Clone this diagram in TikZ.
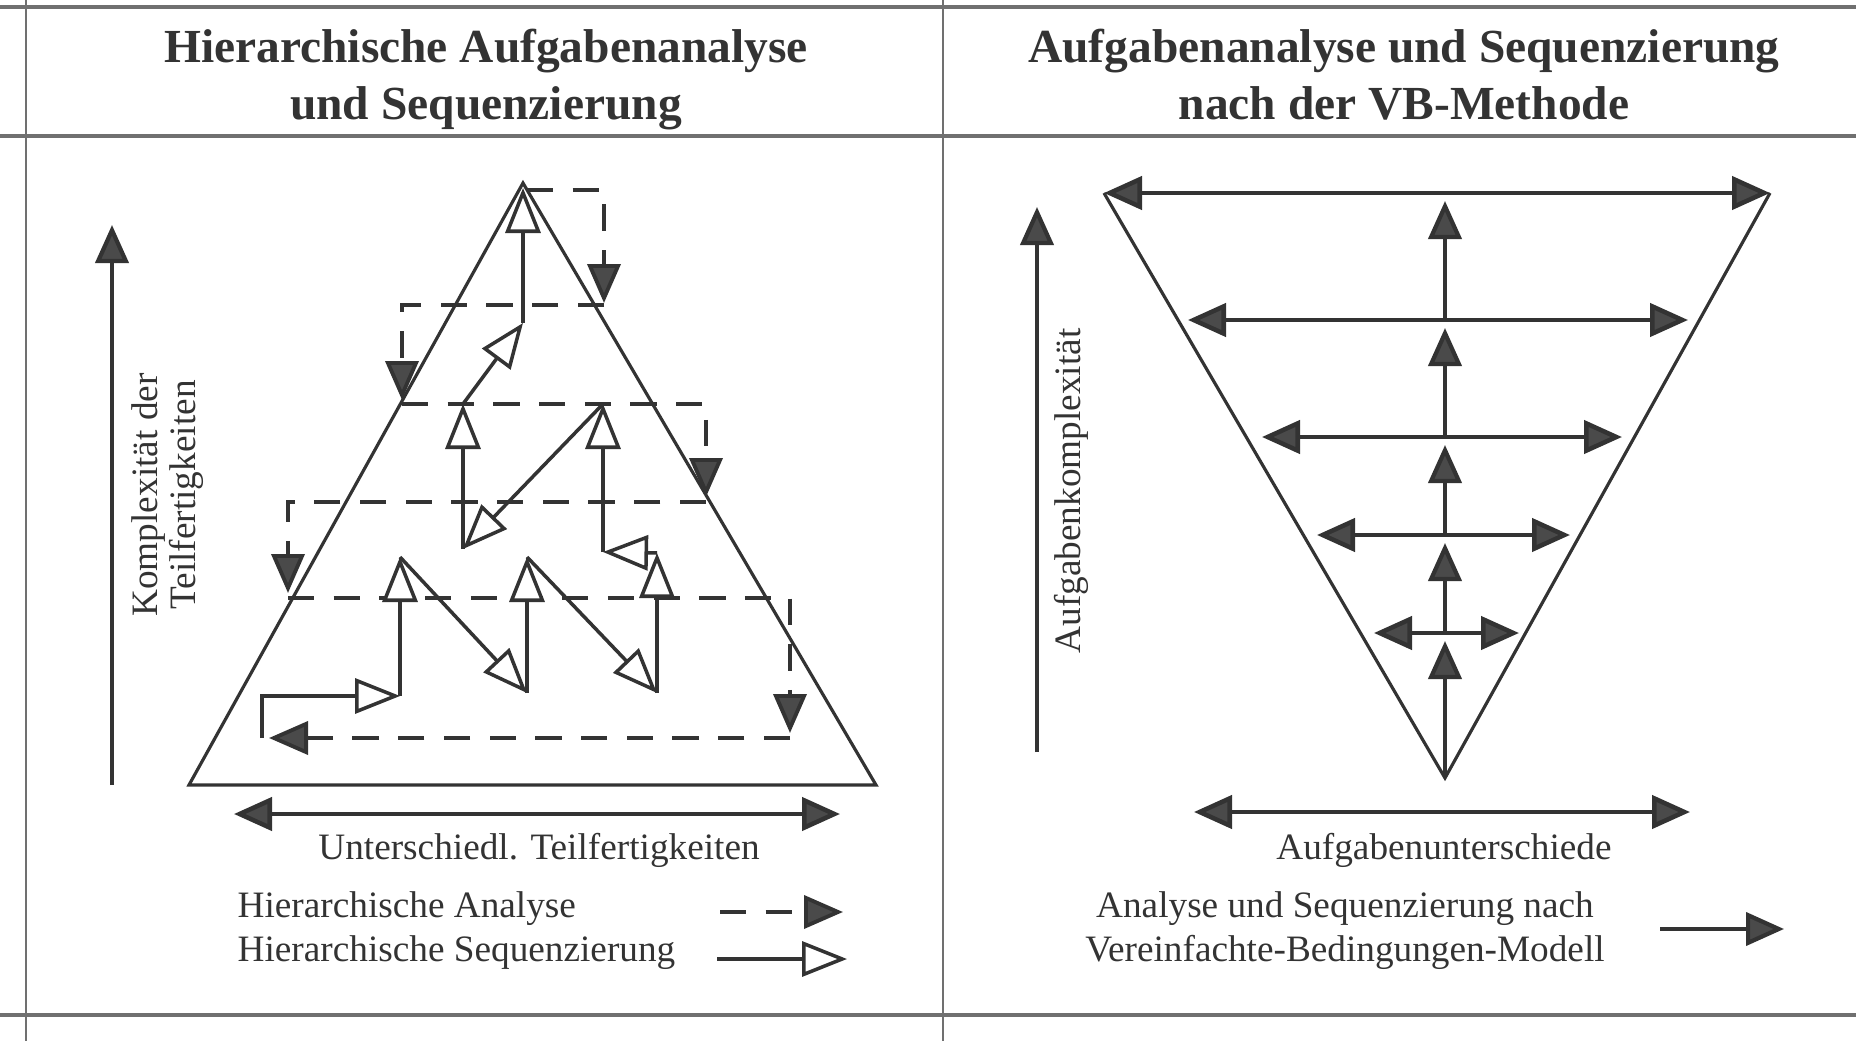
\documentclass[tikz,border=0pt]{standalone}
\usepackage{fontspec}
\setmainfont{Liberation Serif}
\usetikzlibrary{arrows.meta, positioning, calc}

\definecolor{ink}{HTML}{333333}
\definecolor{headfill}{HTML}{4A4A4A}
\definecolor{rulegray}{HTML}{707070}

\tikzset{
  rulebar/.style={draw=rulegray, line width=1.3pt},
  divider/.style={draw=rulegray, line width=0.6pt},
  tri/.style={draw=ink, line width=0.9pt, line join=miter},
  fillarrow/.style={draw=ink, line width=1.2pt, -{Triangle[length=3.8mm, width=3.3mm, fill=headfill]}},
  spread/.style={draw=ink, line width=1.3pt, {Triangle[length=3.8mm, width=3.3mm, fill=headfill]}-{Triangle[length=3.8mm, width=3.3mm, fill=headfill]}},
  anaarrow/.style={draw=ink, line width=1.1pt, dash pattern=on 7.5pt off 5.5pt, -{Triangle[length=3.9mm, width=3.3mm, fill=headfill]}},
  seqarrow/.style={draw=ink, line width=1pt, -{Triangle[length=4.5mm, width=3.5mm, fill=white]}},
  headtext/.style={align=center, inner sep=0pt, text=ink, font=\fontsize{13.5}{16.2}\selectfont\bfseries,
    execute at begin node=\strut, execute at end node=\strut},
  bodytext/.style={inner sep=0pt, text=ink, font=\fontsize{10.6}{12.5}\selectfont},
  sidetext/.style={bodytext, rotate=90, align=center, font=\fontsize{10.6}{10.8}\selectfont}
}

\begin{document}
\begin{tikzpicture}[x=0.1mm, y=-0.1mm]
  \useasboundingbox (0,0) rectangle (1856,1041);

  % frame of the table
  \draw[rulebar] (0,7) -- (1856,7);
  \draw[rulebar] (0,136) -- (1856,136);
  \draw[rulebar] (0,1015) -- (1856,1015);
  \draw[divider] (26,0) -- (26,1041);
  \draw[divider] (943,0) -- (943,1041);

  \node[headtext] (titleL) at (486,83) {Hierarchische Aufgabenanalyse\\und Sequenzierung};
  \node[headtext] (titleR) at (1404,83) {Aufgabenanalyse und Sequenzierung\\nach der VB-Methode};

  % left: hierarchical pyramid
  \coordinate (apex) at (523,183);
  \coordinate (baseL) at (189,785);
  \coordinate (baseR) at (876,785);
  \draw[tri] (apex) -- (baseL) -- (baseR) -- cycle;

  \coordinate (kfoot) at (112,785);
  \coordinate (ktip) at (112,225);
  \draw[fillarrow] (kfoot) -- (ktip);
  \node[sidetext] (klabel) at (168,495) {Komplexität der\\Teilfertigkeiten};

  \coordinate (uL) at (234,814);
  \coordinate (uR) at (840,814);
  \draw[spread] (uL) -- (uR);
  \node[bodytext] (ulabel) at (539,850) {Unterschiedl. Teilfertigkeiten};

  % analysis, top down
  \coordinate (a0) at (527,190);  \coordinate (a1) at (604,303);
  \coordinate (b0) at (604,305);  \coordinate (b1) at (402,400);
  \coordinate (c0) at (402,404);  \coordinate (c1) at (706,497);
  \coordinate (d0) at (706,502);  \coordinate (d1) at (288,593);
  \coordinate (e0) at (288,598);  \coordinate (e1) at (790,733);
  \coordinate (f0) at (790,738);  \coordinate (f1) at (269,738);
  \foreach \s/\t in {a0/a1, b0/b1, c0/c1, d0/d1, e0/e1}
    \draw[anaarrow] (\s) -| (\t);
  \draw[anaarrow] (f0) -- (f1);

  % sequencing, bottom up
  \coordinate (s0) at (262,738);
  \coordinate (p1f) at (400,696);  \coordinate (p1t) at (400,557);
  \coordinate (p2f) at (527,693);  \coordinate (p2t) at (527,557);
  \coordinate (p3f) at (657,693);  \coordinate (p3t) at (657,553);
  \coordinate (q2f) at (603,552);  \coordinate (q2t) at (603,404);
  \coordinate (q1f) at (463,549);  \coordinate (q1t) at (463,404);
  \coordinate (r1f) at (523,323);  \coordinate (r1t) at (523,188);
  \draw[seqarrow] (s0) |- (p1f);
  \foreach \s/\t in {p1f/p1t, p1t/p2f, p2f/p2t, p2t/p3f, p3f/p3t, p3t/q2f,
                     q2f/q2t, q2t/q1f, q1f/q1t, q1t/r1f, r1f/r1t}
    \draw[seqarrow] (\s) -- (\t);

  \node[bodytext, anchor=west] (legana) at (237,909) {Hierarchische Analyse};
  \node[bodytext, anchor=west] (legseq) at (237,953) {Hierarchische Sequenzierung};
  \coordinate (lana0) at (720,912);  \coordinate (lana1) at (843,912);
  \coordinate (lseq0) at (717,959);  \coordinate (lseq1) at (847,959);
  \draw[anaarrow] (lana0) -- (lana1);
  \draw[seqarrow] (lseq0) -- (lseq1);

  % right: VB method, inverted pyramid
  \coordinate (vtl) at (1104,193);
  \coordinate (vtr) at (1770,193);
  \coordinate (vbot) at (1445,778);
  \draw[tri] (vtl) -- (vbot) -- (vtr);
  \draw[spread] (vtl) -- (vtr);
  \foreach \y/\l/\r [count=\i] in {320/1188/1688, 437/1262/1622, 535/1317/1570, 633/1374/1519} {
    \coordinate (hl\i) at (\l,\y);
    \coordinate (hr\i) at (\r,\y);
    \draw[spread] (hl\i) -- (hr\i);
  }
  \foreach \f/\t [count=\i] in {778/641, 633/543, 535/445, 437/328, 320/201} {
    \coordinate (vf\i) at (1445,\f);
    \coordinate (vt\i) at (1445,\t);
    \draw[fillarrow] (vf\i) -- (vt\i);
  }

  \coordinate (afoot) at (1037,752);
  \coordinate (atip) at (1037,207);
  \draw[fillarrow] (afoot) -- (atip);
  \node[sidetext] (alabel) at (1071,491) {Aufgabenkomplexität};

  \coordinate (dL) at (1194,812);
  \coordinate (dR) at (1690,812);
  \draw[spread] (dL) -- (dR);
  \node[bodytext] (dlabel) at (1444,850) {Aufgabenunterschiede};

  \node[bodytext, align=center] (legvb) at (1345,931) {Analyse und Sequenzierung nach\\Vereinfachte-Bedingungen-Modell};
  \coordinate (lvb0) at (1660,929);
  \coordinate (lvb1) at (1784,929);
  \draw[fillarrow] (lvb0) -- (lvb1);
\end{tikzpicture}
\end{document}
